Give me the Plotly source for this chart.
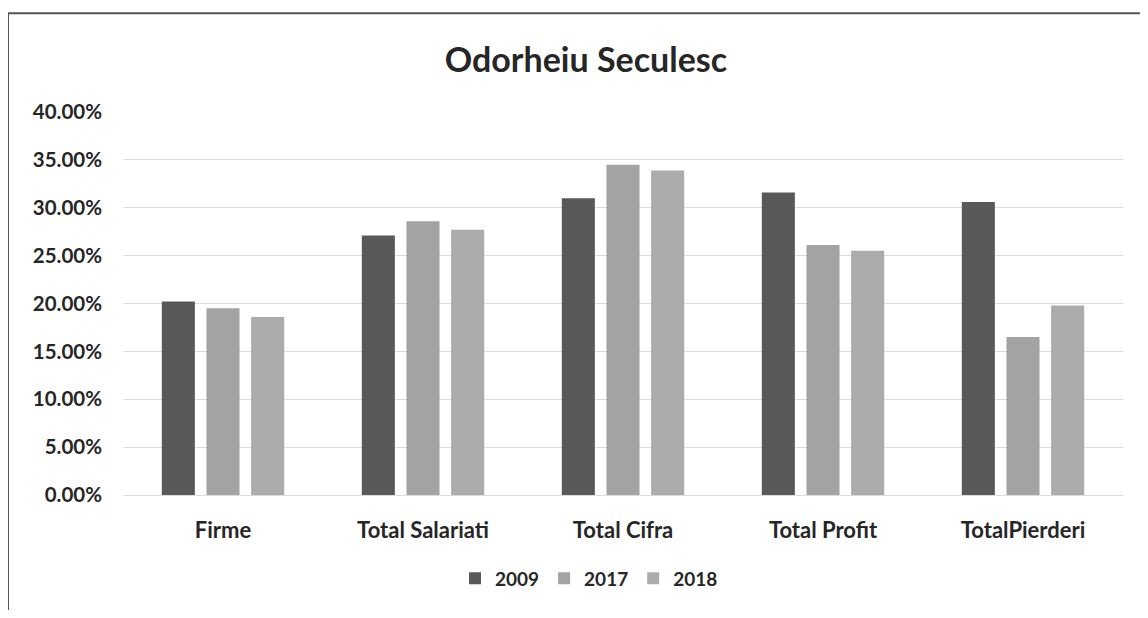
import plotly.graph_objects as go

categories = ["Firme", "Total Salariati", "Total Cifra", "Total Profit", "TotalPierderi"]
years = ["2009", "2017", "2018"]
v2009 = [0.202, 0.271, 0.310, 0.316, 0.306]
v2017 = [0.195, 0.286, 0.345, 0.261, 0.165]
v2018 = [0.186, 0.277, 0.339, 0.255, 0.198]
colors = ["#595959", "#a3a3a3", "#acacac"]
series = [v2009, v2017, v2018]

FONT = "Lato"
TXT = "#262626"

fig = go.Figure()
for name, vals, col in zip(years, series, colors):
    fig.add_trace(go.Bar(x=categories, y=vals, name=name, marker=dict(color=col, line=dict(width=0))))

fig.update_layout(
    width=1132, height=602,
    margin=dict(l=115, r=17, t=104, b=110),
    paper_bgcolor="white", plot_bgcolor="white",
    barmode="group", bargap=0.33, bargroupgap=0.26,
    title=dict(text="<b>Odorheiu Seculesc</b>", x=0.5106, xanchor="center",
               y=1 - 52 / 602, yanchor="middle", yref="container",
               font=dict(family=FONT, size=34, color=TXT)),
    font=dict(family=FONT, color=TXT),
    legend=dict(orientation="h", x=0.466, xanchor="center", y=-0.218, yanchor="middle",
                font=dict(family=FONT, size=19, color=TXT, weight="bold"),
                itemwidth=30, traceorder="normal"),
    showlegend=True,
)
fig.update_yaxes(range=[0, 0.4], dtick=0.05, tickformat=".2%",
                 showgrid=True, gridcolor="#dcdcdc", gridwidth=1,
                 zeroline=True, zerolinecolor="#dcdcdc", zerolinewidth=1,
                 showline=False, ticks="", ticklabelstandoff=20,
                 tickfont=dict(family=FONT, size=20.5, color=TXT, weight="bold"))
fig.update_xaxes(showgrid=False, showline=False, ticks="", ticklabelstandoff=20,
                 tickfont=dict(family=FONT, size=22, color=TXT, weight="bold"))

# scanned-frame border lines (top and left)
fig.add_shape(type="line", xref="paper", yref="paper", x0=-0.115, x1=1.03,
              y0=1 + 100 / 388, y1=1 + 100 / 388, line=dict(color="#555555", width=2))
fig.add_shape(type="line", xref="paper", yref="paper", x0=-0.115, x1=-0.115,
              y0=1 + 100 / 388, y1=-130 / 388, line=dict(color="#555555", width=2))

fig.write_html("out.html")
